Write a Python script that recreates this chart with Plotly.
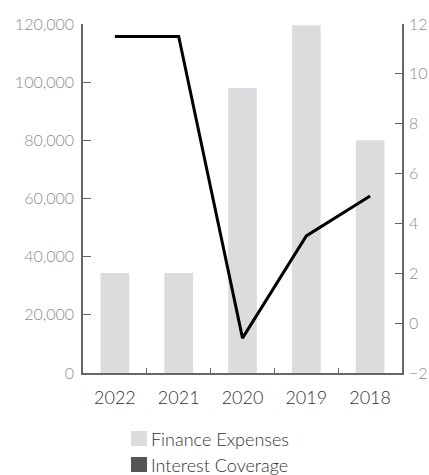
import plotly.graph_objects as go

# Fiscal years and series values
years = ["2022", "2021", "2020", "2019", "2018"]
finance_expenses = [34400, 34400, 98000, 119600, 80000]
interest_coverage = [11.5, 11.5, -0.6, 3.5, 5.1]

# Legend entries: (label, swatch colour)
legend_items = [("Finance Expenses", "#dcdcde"), ("Interest Coverage", "#555555")]

bar_color = "#dcdcde"
line_color = "#000000"
axis_color = "#666666"
tick_font = dict(family="Lato", size=16, color="#8c8c8c", weight=300)
label_font = dict(family="Lato", size=18, color="#333333", weight=300)

fig = go.Figure()

fig.add_trace(go.Bar(
    x=years, y=finance_expenses, name="Finance Expenses",
    marker=dict(color=bar_color, line=dict(width=0)), width=0.45,
    yaxis="y",
))

fig.add_trace(go.Scatter(
    x=years, y=interest_coverage, name="Interest Coverage",
    mode="lines", line=dict(color=line_color, width=3),
    yaxis="y2",
))

# Plot area in pixels, used to place the hand-built legend below the axes
L, R, T, B = 83, 27, 24, 102
W, H = 429, 475
pw, ph = W - L - R, H - T - B


def px_x(x):
    return (x - L) / pw


def px_y(y):
    return (H - B - y) / ph


shapes = []
annotations = []
for i, (label, color) in enumerate(legend_items):
    top = 431 + i * 26
    shapes.append(dict(
        type="rect", xref="paper", yref="paper",
        x0=px_x(131), x1=px_x(147), y0=px_y(top + 15), y1=px_y(top),
        fillcolor=color, line=dict(width=0),
    ))
    annotations.append(dict(
        text=label, xref="paper", yref="paper", x=px_x(149),
        y=px_y(top + 7.5), xanchor="left", yanchor="middle",
        showarrow=False, font=label_font,
    ))

fig.update_layout(
    width=W, height=H,
    margin=dict(l=L, r=R, t=T, b=B, autoexpand=False),
    paper_bgcolor="white", plot_bgcolor="white",
    showlegend=False,
    shapes=shapes, annotations=annotations,
    xaxis=dict(
        type="category", categoryorder="array", categoryarray=years,
        showgrid=False, showline=True, linecolor=axis_color,
        linewidth=1.5, ticks="inside", tickson="boundaries", ticklen=5,
        tickcolor=axis_color, tickfont=label_font, automargin=False,
        ticklabelstandoff=8,
    ),
    yaxis=dict(
        range=[0, 120000], dtick=20000, tickformat=",", showgrid=False,
        zeroline=False, showline=True, linecolor=axis_color, linewidth=1.5,
        ticks="inside", ticklen=8, tickcolor=axis_color, tickfont=tick_font,
        automargin=False, ticklabelstandoff=4,
    ),
    yaxis2=dict(
        range=[-2, 12], dtick=2, overlaying="y", side="right", showgrid=False,
        zeroline=False, showline=True, linecolor=axis_color, linewidth=1.5,
        ticks="inside", ticklen=7, tickcolor=axis_color, tickfont=tick_font,
        automargin=False, ticklabelstandoff=2,
    ),
)

fig.write_html("out.html")
